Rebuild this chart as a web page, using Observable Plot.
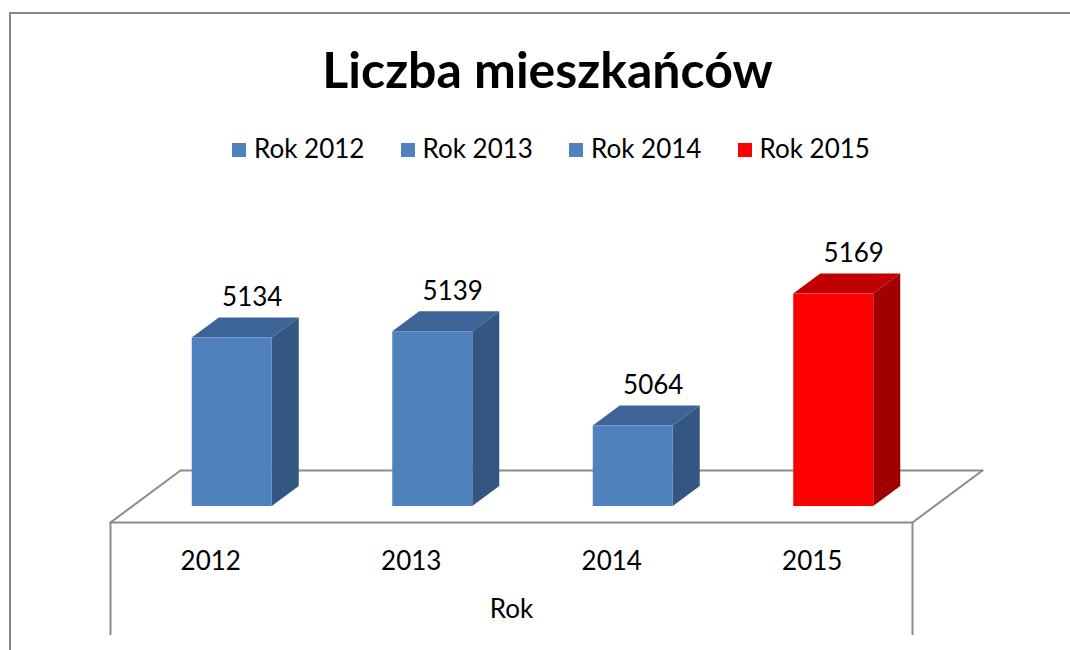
<!DOCTYPE html>
<html>
<head>
<meta charset="utf-8">
<script src="https://cdn.jsdelivr.net/npm/d3@7"></script>
<script src="https://cdn.jsdelivr.net/npm/@observablehq/plot@0.6"></script>
<style>
  html, body { margin: 0; padding: 0; background: #fff; overflow: hidden; width: 1070px; height: 650px; }
  body { position: relative; font-family: Lato, "Noto Sans", sans-serif; color: #000; }
  #frame { position: absolute; left: 9px; top: 12px; width: 1200px; height: 800px;
           border-top: 2px solid #878787; border-left: 2px solid #878787; box-sizing: border-box; }
  #title { position: absolute; left: 0; top: 39px; width: 1095px; text-align: center;
           font-weight: 700; font-size: 50px; line-height: 60px; white-space: nowrap; }
  #legend { position: absolute; left: 232px; top: 133px; display: flex; }
  .item { width: 168.5px; display: flex; align-items: flex-start; font-size: 26px; line-height: 30px; white-space: nowrap; }
  .sw { width: 14px; height: 14px; margin-top: 10px; margin-right: 8px; flex: none; }
  #chart { position: absolute; left: 0; top: 190px; }
</style>
</head>
<body>
<div id="frame"></div>
<div id="title">Liczba mieszkańców</div>
<div id="legend"></div>
<div id="chart"></div>
<script>
// ---- data ----
const years = [2012, 2013, 2014, 2015];
const values = [5134, 5139, 5064, 5169];
const seriesNames = ["Rok 2012", "Rok 2013", "Rok 2014", "Rok 2015"];
const tickLabels = ["2012", "2013", "2014", "2015"];
const axisTitle = "Rok";
const chartTitle = "Liczba mieszkańców";

// ---- styles ----
const shades = {
  blue: {front: "#4F81BD", top: "#3C6496", side: "#345782"},
  red:  {front: "#FF0000", top: "#C00000", side: "#A00000"}
};
const tone = y => (y === 2015 ? shades.red : shades.blue);
const gridGray = "#8C8C8C";

// ---- legend (HTML) ----
const legend = document.getElementById("legend");
seriesNames.forEach((name, i) => {
  const it = document.createElement("div");
  it.className = "item";
  const sw = document.createElement("span");
  sw.className = "sw";
  sw.style.background = tone(years[i]).front;
  const tx = document.createElement("span");
  tx.textContent = name;
  it.appendChild(sw); it.appendChild(tx);
  legend.appendChild(it);
});

// ---- geometry (pixel depth converted to data units) ----
const W = 1070, H = 460;
const mL = 110, mR = 158, mB = 128;
const xDomain = [2011.5, 2015.5];
const yDomain = [5000, 5200];
const yRange = [316, 64.6];
const kx = (W - mL - mR) / (xDomain[1] - xDomain[0]);
const ky = (yRange[0] - yRange[1]) / (yDomain[1] - yDomain[0]);
const base = yDomain[0];

const yF = base - 16 / ky;           // floor front edge
const FX = 70 / kx, FY = 52 / ky;    // floor depth
const BX = 21.5 / kx;                // bar plane offset from floor front
const HW = 40 / kx;                  // half bar width
const DX = 27 / kx, DY = 20 / ky;    // bar depth

const bars = years.map((year, i) => ({year, value: values[i], ...tone(year)}));

const floorEdges = [
  {e: "front", x: xDomain[0], y: yF}, {e: "front", x: xDomain[1], y: yF},
  {e: "back", x: xDomain[0] + FX, y: yF + FY}, {e: "back", x: xDomain[1] + FX, y: yF + FY},
  {e: "left", x: xDomain[0], y: yF}, {e: "left", x: xDomain[0] + FX, y: yF + FY},
  {e: "right", x: xDomain[1], y: yF}, {e: "right", x: xDomain[1] + FX, y: yF + FY}
];

const sidePts = bars.flatMap(b => {
  const xr = b.year + BX + HW;
  return [
    {k: b.year, x: xr, y1: base, y2: b.value, c: b.side},
    {k: b.year, x: xr + DX, y1: base + DY, y2: b.value + DY, c: b.side}
  ];
});
const topPts = bars.flatMap(b => {
  const xl = b.year + BX - HW, xr = b.year + BX + HW, v = b.value;
  return [
    {k: b.year, x: xl, y1: v, y2: v, c: b.top},
    {k: b.year, x: xl + DX, y1: v, y2: v + DY, c: b.top},
    {k: b.year, x: xr, y1: v, y2: v + DY, c: b.top},
    {k: b.year, x: xr + DX, y1: v + DY, y2: v + DY, c: b.top}
  ];
});

const chart = Plot.plot({
  width: W, height: H,
  marginLeft: mL, marginRight: mR, marginTop: 0, marginBottom: mB,
  style: {fontFamily: "Lato, 'Noto Sans', sans-serif", fontSize: "26px", color: "#000", background: "transparent", overflow: "visible"},
  x: {domain: xDomain},
  y: {domain: yDomain, range: yRange, axis: null},
  marks: [
    Plot.line(floorEdges, {x: "x", y: "y", z: "e", stroke: gridGray, strokeWidth: 2}),
    Plot.ruleX([xDomain[0], xDomain[1]], {x: d => d, y1: yF, y2: yF - 113 / ky, stroke: gridGray, strokeWidth: 2}),
    Plot.areaY(sidePts, {x: "x", y1: "y1", y2: "y2", z: "k", fill: "c", curve: "linear"}),
    Plot.areaY(topPts, {x: "x", y1: "y1", y2: "y2", z: "k", fill: "c", curve: "linear"}),
    Plot.rect(bars, {x1: d => d.year + BX - HW, x2: d => d.year + BX + HW, y1: base, y2: "value", fill: "front"}),
    Plot.text(bars, {x: d => d.year + BX, y: "value", text: d => String(d.value), dx: 20, dy: -40, fontSize: 26, fill: "#000"}),
    Plot.axisX({ticks: years, tickFormat: (d, i) => tickLabels[years.indexOf(d)], tickSize: 0, tickPadding: 29.5, fontSize: 26, label: null, fill: "#000"}),
    Plot.text([axisTitle], {text: d => d, frameAnchor: "bottom", dy: 95, fontSize: 26, fill: "#000"})
  ]
});
document.getElementById("chart").appendChild(chart);
</script>
</body>
</html>
